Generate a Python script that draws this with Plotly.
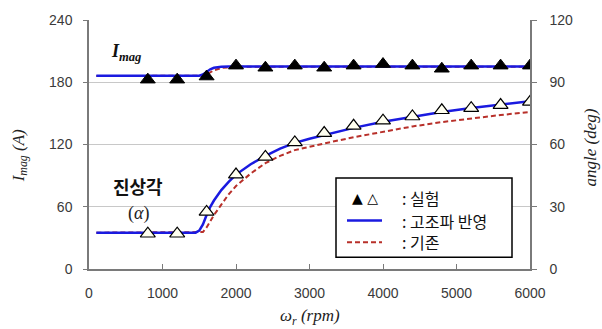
import plotly.graph_objects as go

# ---------------- data ----------------
rpm_exp = [800, 1200, 1600, 2000, 2400, 2800, 3200, 3600, 4000, 4400, 4800, 5200, 5600, 6000]
imag_exp = [182.5, 182.5, 185.5, 196, 194, 196, 194, 196, 197.5, 196, 193, 196, 196, 196]
angle_exp = [17, 17, 27.5, 45.5, 54, 61, 65.5, 69, 71.5, 73.5, 76.5, 77.5, 79, 80.5]

rpm_sim = [100, 1450, 1500, 1550, 1600, 1650, 1700, 1800, 1900, 2000, 2200, 2400,
           2600, 2800, 3000, 3200, 3600, 4000, 4400, 4800, 5200, 5600, 6000]
imag_harm = [186.3, 186.3, 186.3, 187.5, 190, 192.5, 194, 195, 195.2, 195.2, 195.2, 195.2,
             195.2, 195.2, 195.2, 195.2, 195.2, 195.2, 195.2, 195.2, 195.2, 195.2, 195.2]
imag_conv = [186, 186, 186, 186.3, 187.5, 189.5, 191.5, 193.8, 194.7, 195, 195, 195,
             195, 195, 195, 195, 195, 195, 195, 195, 195, 195, 195]
angle_harm = [17.5, 17.5, 18.5, 21.5, 26, 30, 33, 38, 42, 45.5, 50.5, 54.5,
              58, 60.8, 62.8, 64.5, 68, 71, 73.3, 75.7, 77.6, 79.3, 80.8]
angle_conv = [17.5, 17.5, 17.5, 17.8, 20, 23, 26, 31, 36, 40, 46, 51,
              54.5, 57.3, 59, 60.5, 63.5, 66, 68.7, 70.8, 72.6, 74.2, 75.7]

x_ticks = [0, 1000, 2000, 3000, 4000, 5000, 6000]
y_ticks = [0, 60, 120, 180, 240]
y2_ticks = [0, 30, 60, 90, 120]

# ---------------- style ----------------
W, H = 602, 329
L, R, T, B = 89, 530, 17, 269
BLUE = "#1a1ae0"
RED = "#b8302a"
SANS = "Liberation Sans, Arial, sans-serif"
SERIF = "Liberation Serif, Times New Roman, serif"
KR = "Noto Sans CJK KR, sans-serif"
TICKC = "#3a3a3a"
AXC = "#7a7a7a"
GRIDC = "#c8c8c8"


def px(xp):
    return (xp - L) / (R - L)


def py(yp):
    return (B - yp) / (B - T)


def label(xp, yp, text, font, xanchor="center", textangle=0):
    return dict(x=px(xp), y=py(yp), xref="paper", yref="paper", showarrow=False,
                xanchor=xanchor, yanchor="middle", text=text, font=font,
                textangle=textangle)


fig = go.Figure()

# simulated lines (conventional first, harmonic on top)
fig.add_trace(go.Scatter(x=rpm_sim, y=imag_conv, mode="lines",
                         line=dict(color=RED, width=2, dash="5px,3px"), yaxis="y"))
fig.add_trace(go.Scatter(x=rpm_sim, y=angle_conv, mode="lines",
                         line=dict(color=RED, width=2, dash="5px,3px"), yaxis="y2"))
fig.add_trace(go.Scatter(x=rpm_sim, y=imag_harm, mode="lines",
                         line=dict(color=BLUE, width=2.5), yaxis="y"))
fig.add_trace(go.Scatter(x=rpm_sim, y=angle_harm, mode="lines",
                         line=dict(color=BLUE, width=2.5), yaxis="y2"))

# experimental markers
fig.add_trace(go.Scatter(x=rpm_exp, y=imag_exp, mode="markers",
                         marker=dict(symbol="triangle-up", size=13, color="black",
                                     line=dict(color="black", width=1)), yaxis="y"))
fig.add_trace(go.Scatter(x=rpm_exp, y=angle_exp, mode="markers",
                         marker=dict(symbol="triangle-up", size=13, color="#fffff0",
                                     line=dict(color="black", width=1.2)), yaxis="y2"))

serif_f = dict(family=SERIF, size=17, color="#222")
ann = [
    # axis titles
    label(20, 155, "<i>I<sub>mag</sub> (A)</i>", serif_f, textangle=-90),
    label(590, 146, "<i>angle (deg)</i>", serif_f, textangle=-90),
    label(310, 318, "<i>ω<sub>r</sub> (rpm)</i>", serif_f),
    # in-plot labels
    label(109, 50, "<b><i>I<sub>mag</sub></i></b>", dict(family=SERIF, size=18, color="#111"),
          xanchor="left"),
    label(138, 185, "<b>진상각</b>", dict(family=KR, size=18, color="#111")),
    label(138, 213, "(<i>α</i>)", dict(family=SERIF, size=18, color="#222")),
    # legend texts
    label(365, 197, "▲ △", dict(family="DejaVu Sans", size=14, color="black")),
]
for yy, t in [(197, ": 실험"), (220, ": 고조파 반영"), (242, ": 기존")]:
    ann.append(label(400, yy, t, dict(family=KR, size=16, color="#111"), xanchor="left"))

shapes = [
    dict(type="rect", xref="paper", yref="paper", x0=px(336), x1=px(512), y0=py(257), y1=py(177),
         line=dict(color="black", width=1.5), fillcolor="white", layer="above"),
    dict(type="line", xref="paper", yref="paper", x0=px(347), x1=px(382), y0=py(220), y1=py(220),
         line=dict(color=BLUE, width=2.5), layer="above"),
    dict(type="line", xref="paper", yref="paper", x0=px(347), x1=px(382), y0=py(242), y1=py(242),
         line=dict(color=RED, width=2, dash="5px,3px"), layer="above"),
]

fig.update_layout(
    width=W, height=H, margin=dict(l=L, r=W - R, t=T, b=H - B),
    paper_bgcolor="white", plot_bgcolor="white", showlegend=False,
    annotations=ann, shapes=shapes,
    xaxis=dict(range=[0, 6000], tickvals=x_ticks, ticks="inside", ticklen=5, tickcolor=AXC,
               showline=True, linecolor=AXC, linewidth=1.5, showgrid=False, zeroline=False,
               tickfont=dict(family=SANS, size=14, color=TICKC), ticklabelstandoff=10),
    yaxis=dict(range=[0, 240], tickvals=y_ticks, ticks="outside", ticklen=4, tickcolor=AXC,
               showline=True, linecolor=AXC, linewidth=1.5, showgrid=True, gridcolor=GRIDC,
               gridwidth=1, zeroline=False,
               tickfont=dict(family=SANS, size=14, color=TICKC), ticklabelstandoff=8),
    yaxis2=dict(range=[0, 120], tickvals=y2_ticks, ticks="outside", ticklen=5, tickcolor=AXC,
                overlaying="y", side="right", showline=True, linecolor=AXC, linewidth=1.5,
                showgrid=False, zeroline=False,
                tickfont=dict(family=SANS, size=14, color=TICKC), ticklabelstandoff=10),
)

fig.write_html("out.html")
